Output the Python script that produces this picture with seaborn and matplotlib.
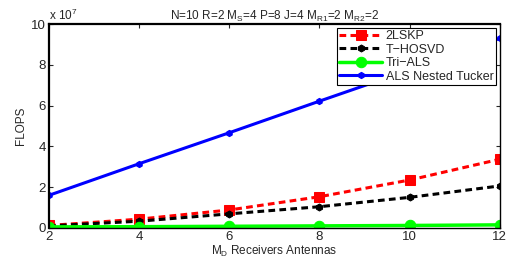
import matplotlib
matplotlib.use("Agg")
import matplotlib.pyplot as plt
import seaborn as sns
import pandas as pd
import numpy as np

md = [2, 4, 6, 8, 10, 12]
lskp = [0.12e7, 0.43e7, 0.88e7, 1.53e7, 2.35e7, 3.37e7]
thosvd = [0.10e7, 0.33e7, 0.69e7, 1.04e7, 1.50e7, 2.06e7]
triials = [0.05e7, 0.06e7, 0.08e7, 0.10e7, 0.12e7, 0.15e7]
nested = [1.60e7, 3.15e7, 4.67e7, 6.22e7, 7.75e7, 9.30e7]
names = ["2LSKP", "T\u2212HOSVD", "Tri\u2212ALS", "ALS Nested Tucker"]

sns.set_style("white")
plt.rcParams['font.family'] = ['Liberation Sans', 'DejaVu Sans']
plt.rcParams['mathtext.fontset'] = 'custom'
plt.rcParams['mathtext.rm'] = 'Liberation Sans'
plt.rcParams['mathtext.it'] = 'Liberation Sans'

fig = plt.figure(figsize=(5.1, 2.59), dpi=100)
ax = fig.add_axes([0.096, 0.12, 0.884, 0.787])

df = pd.DataFrame({"md": md, "a": lskp, "b": thosvd, "c": triials, "d": nested})
dash = (2.2, 1.4)
sns.lineplot(data=df, x="md", y="a", ax=ax, color="red", lw=2.2, dashes=False,
             marker="s", markersize=6.5, markeredgecolor="red", label=names[0]).lines[-1].set_dashes(dash)
sns.lineplot(data=df, x="md", y="b", ax=ax, color="black", lw=2.2,
             marker="h", markersize=5, markeredgecolor="black", label=names[1]).lines[-1].set_dashes(dash)
sns.lineplot(data=df, x="md", y="c", ax=ax, color="#00ff00", linestyle="-", lw=2.5,
             marker="o", markersize=7.5, markeredgecolor="#00ff00", label=names[2])
sns.lineplot(data=df, x="md", y="d", ax=ax, color="blue", linestyle="-", lw=2.2,
             marker="h", markersize=4.5, markeredgecolor="blue", label=names[3])

ax.set_xlim(2, 12)
ax.set_ylim(0, 1e8)
ax.set_xticks([2, 4, 6, 8, 10, 12])
ax.set_yticks([0, 2e7, 4e7, 6e7, 8e7, 10e7])
ax.set_yticklabels(["0", "2", "4", "6", "8", "10"])
ax.tick_params(axis="both", labelsize=9.5, direction="in", length=3, width=0.8, pad=2,
               top=True, right=True, bottom=True, left=True)
for s in ax.spines.values():
    s.set_color("black")
    s.set_linewidth(1.0)
ax.spines["left"].set_linewidth(1.6)
ax.spines["top"].set_linewidth(1.6)

ax.text(0.0, 1.005, r"x 10$^{7}$", transform=ax.transAxes, fontsize=8.5, ha="left", va="bottom")
ax.set_title(r"N=10 R=2 M$_{\mathrm{S}}$=4 P=8 J=4 M$_{\mathrm{R1}}$=2 M$_{\mathrm{R2}}$=2",
             fontsize=8.5, pad=3)
ax.set_xlabel(r"M$_{\mathrm{D}}$ Receivers Antennas", fontsize=8.5, labelpad=1)
ax.set_ylabel("FLOPS", fontsize=8.5, labelpad=3)

leg = ax.legend(loc="upper right", fontsize=9, frameon=True, fancybox=False,
                borderpad=0.2, labelspacing=0.12, handlelength=3.4, handletextpad=0.3,
                borderaxespad=0.3)
leg.get_frame().set_edgecolor("black")
leg.get_frame().set_linewidth(0.8)
leg.get_frame().set_alpha(1)

fig.savefig("out.png", dpi=100)
